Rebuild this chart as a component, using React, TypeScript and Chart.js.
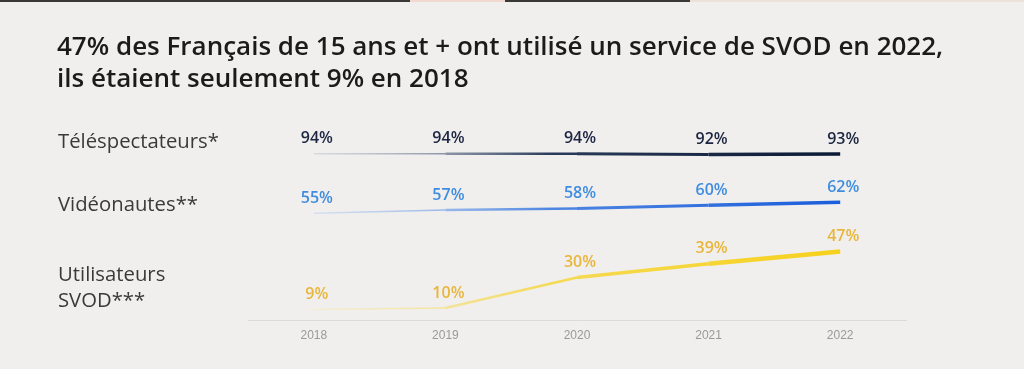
import React, { useEffect, useRef } from "react";
import { Chart, registerables } from "chart.js";

Chart.register(...registerables);

const TITLE_LINES = [
  "47% des Français de 15 ans et + ont utilisé un service de SVOD en 2022,",
  "ils étaient seulement 9% en 2018",
];
const YEARS = ["2018", "2019", "2020", "2021", "2022"];
const TELESPECTATEURS = [94, 94, 94, 92, 93];
const VIDEONAUTES = [55, 57, 58, 60, 62];
const SVOD = [9, 10, 30, 39, 47];
const ROW_LABELS = [["Téléspectateurs*"], ["Vidéonautes**"], ["Utilisateurs", "SVOD***"]];

const BG = "#f0efed";

function gradientFor(chart: any, start: string, mid: string, end: string) {
  const area = chart.chartArea;
  const xs = chart.scales && chart.scales.x;
  if (!area || !xs) return end;
  const x0 = xs.getPixelForValue(0);
  const x1 = xs.getPixelForValue(YEARS.length - 1);
  const g = chart.ctx.createLinearGradient(x0, 0, x1, 0);
  g.addColorStop(0, start);
  g.addColorStop(0.45, mid);
  g.addColorStop(1, end);
  return g;
}

const bgPlugin = {
  id: "bgPlugin",
  beforeDraw(chart: any) {
    const { ctx, width, height } = chart;
    ctx.save();
    ctx.fillStyle = BG;
    ctx.fillRect(0, 0, width, height);
    ctx.fillStyle = "#3a3837";
    ctx.fillRect(0, 0, width, 2);
    ctx.fillStyle = "#f1d9d0";
    ctx.fillRect(410, 0, 95, 2);
    ctx.fillStyle = "#ece2dc";
    ctx.fillRect(690, 0, width - 690, 2);
    ctx.restore();
  },
};

const textPlugin = {
  id: "textPlugin",
  afterDraw(chart: any) {
    const { ctx } = chart;
    ctx.save();
    ctx.fillStyle = "#1b1b1b";
    ctx.font = '600 26px "Open Sans", sans-serif';
    ctx.textBaseline = "middle";
    ctx.textAlign = "left";
    ctx.fillText(TITLE_LINES[0], 57, 48);
    ctx.fillText(TITLE_LINES[1], 57, 80);
    ctx.fillStyle = "#3a3a3a";
    ctx.font = '400 20.3px "Open Sans", sans-serif';
    const rowY = [[142], [205], [275, 301]];
    ROW_LABELS.forEach((lines, i) => {
      lines.forEach((t, j) => ctx.fillText(t, 58, rowY[i][j]));
    });
    const colors = ["#1c2541", "#3f8de0", "#e9b63c"];
    ctx.font = '600 16px "Open Sans", sans-serif';
    ctx.textAlign = "center";
    chart.data.datasets.forEach((ds: any, i: number) => {
      const meta = chart.getDatasetMeta(i);
      ctx.fillStyle = colors[i];
      meta.data.forEach((pt: any, k: number) => {
        ctx.fillText(ds.data[k] + "%", pt.x + 3, pt.y - 15);
      });
    });
    ctx.restore();
  },
};

export default function App() {
  const ref = useRef<HTMLCanvasElement>(null);
  useEffect(() => {
    document.body.style.margin = "0";
    const chart = new Chart(ref.current as HTMLCanvasElement, {
      type: "line",
      data: {
        labels: YEARS,
        datasets: [
          {
            label: "Téléspectateurs*",
            data: TELESPECTATEURS,
            yAxisID: "y0",
            borderColor: (c: any) => gradientFor(c.chart, "rgba(170,180,198,0.35)", "#2a3a5a", "#0a1934"),
            segment: { borderWidth: (c: any) => [1.5, 2.5, 3, 3.5][c.p0DataIndex] },
            pointRadius: 0,
            tension: 0,
          },
          {
            label: "Vidéonautes**",
            data: VIDEONAUTES,
            yAxisID: "y1",
            borderColor: (c: any) => gradientFor(c.chart, "rgba(180,205,240,0.45)", "#4f86e2", "#1b5ddb"),
            segment: { borderWidth: (c: any) => [1.5, 2.5, 3, 3.5][c.p0DataIndex] },
            pointRadius: 0,
            tension: 0,
          },
          {
            label: "Utilisateurs SVOD***",
            data: SVOD,
            yAxisID: "y2",
            borderColor: (c: any) => gradientFor(c.chart, "rgba(245,232,180,0.45)", "#f5da55", "#f6d11c"),
            segment: { borderWidth: (c: any) => [1.5, 2.5, 3.5, 4.5][c.p0DataIndex] },
            pointRadius: 0,
            tension: 0,
          },
        ],
      },
      options: {
        animation: false,
        responsive: false,
        layout: { padding: { left: 248, right: 118, top: 120, bottom: 26 } },
        plugins: { legend: { display: false }, tooltip: { enabled: false }, title: { display: false } },
        scales: {
          x: {
            offset: true,
            grid: { display: false },
            border: { display: true, color: "#dcdad8", width: 1 },
            ticks: { color: "#999999", font: { family: '"Liberation Sans", Arial, sans-serif', size: 12 }, padding: 0 },
          },
          y0: { display: false, min: -322, max: 178 },
          y1: { display: false, min: -13.2, max: 114.2 },
          y2: { display: false, min: 1.8, max: 132.8 },
        },
      },
      plugins: [bgPlugin, textPlugin],
    });
    return () => chart.destroy();
  }, []);
  return (
    <div style={{ width: 1024, height: 369, background: BG }}>
      <canvas ref={ref} width={1024} height={369} style={{ display: "block" }} />
    </div>
  );
}
